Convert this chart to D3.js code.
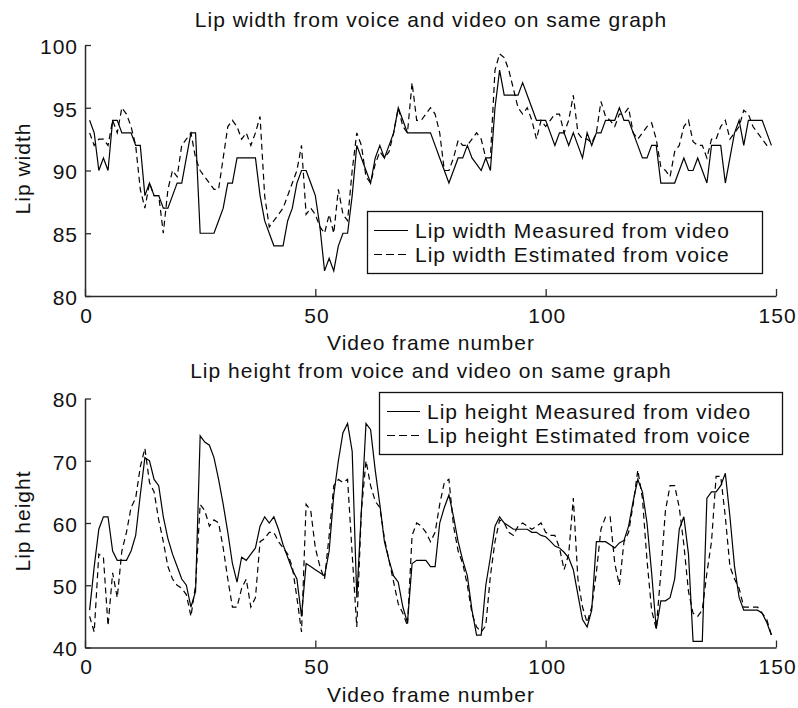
<!DOCTYPE html>
<html>
<head>
<meta charset="utf-8">
<script src="https://cdn.jsdelivr.net/npm/d3@7"></script>
<style>
  html, body { margin: 0; padding: 0; background: #ffffff; }
  svg { display: block; }
  text { font-family: "Liberation Sans", Arial, Helvetica, sans-serif; fill: #111; letter-spacing: 1px; }
</style>
</head>
<body>
<svg id="chart" width="798" height="708"></svg>
<script>
// ---------- DATA ----------
const frames = d3.range(1, 150); // video frame numbers 1..149

const widthMeasured = [
  94, 93, 90, 91, 90, 94, 94, 93, 93, 93,
  92, 92, 88, 89, 88, 88, 87, 87, 88, 89,
  89, 91, 93, 93, 85, 85, 85, 85, 86, 87,
  89, 89, 91, 91, 91, 91, 91, 88, 86, 85,
  84, 84, 84, 86, 87, 89, 90, 90, 89, 88,
  85.5, 82, 83, 82, 84, 85, 85, 88, 92, 91,
  90, 89, 91, 92, 91, 92, 93, 95, 94, 93,
  93, 93, 93, 93, 93, 92, 91, 90, 89, 90,
  91, 91, 92, 91, 90.5, 90, 91, 90, 95, 98,
  96, 96, 96, 96, 97, 96, 95, 94, 94, 94,
  93, 92, 93, 93, 92, 93, 92, 91, 93, 92,
  93, 93, 94, 94, 94, 95, 94, 94, 93, 92,
  91, 91, 92, 92, 89, 89, 89, 89, 90, 91,
  90, 90, 91, 90, 89, 92, 92, 92, 89, 91,
  93, 94, 92, 94, 94, 94, 94, 93, 92
];

const widthEstimated = [
  93, 92, 92.5, 92.5, 92, 94, 93, 95, 94.5, 93.5,
  92, 88.5, 87, 89, 88, 88, 85, 88.5, 90, 89.5,
  92, 92.5, 93, 91, 90, 89.5, 89, 88.5, 88.5, 91,
  93.5, 94, 93.5, 92.5, 93, 92, 93, 94.3, 88, 85.5,
  86, 86.5, 87, 88, 89, 90, 92, 86.5, 87, 86.5,
  85.5, 85, 86.5, 85, 88.5, 86.5, 86, 90, 93, 92,
  89.5, 89, 90.5, 91.5, 91, 91.5, 93, 95, 93.5, 93,
  97, 94, 94, 94.5, 95, 94.5, 93, 90, 90, 91,
  92.4, 92, 92, 92.5, 93, 92.5, 91, 91, 98, 99.3,
  99, 98, 96.5, 95, 94.5, 95, 94, 92.5, 94, 93.5,
  94, 94.5, 94.5, 93, 94, 96, 93, 92.5, 92.5, 92.2,
  93, 95.5, 94.3, 94, 93.5, 94.5, 94.5, 95, 93, 92.5,
  93, 93.5, 93.8, 92.5, 90.3, 90, 89.5, 91.5, 92, 93.5,
  94, 92.3, 92, 92, 91, 92.5, 92.5, 93.5, 94, 92.5,
  93, 93.5, 94.8, 94.5, 93.5, 93, 92.5, 92, 92
];

const heightMeasured = [
  46, 53, 59, 61, 61, 55.5, 54, 54, 54, 55.5,
  58, 64.5, 70.5, 70, 67, 66, 61, 57.5, 55, 53,
  51, 50, 46.5, 49, 74, 73, 72.5, 70.5, 67, 63,
  58.5, 53.5, 50.5, 54.5, 54, 55, 56, 59.5, 61, 60,
  61, 59, 56.5, 54.5, 52.5, 51, 45, 53.5, 53, 52.5,
  52, 51.5, 55.5, 64.5, 70, 74.5, 76, 71.5, 48, 62,
  76, 75, 68.5, 63, 57, 54, 51.5, 50.5, 46.5, 44,
  53.5, 54, 54, 54, 53, 53, 60, 62.5, 64.5, 61,
  57, 54, 51.5, 46, 42, 42, 50, 54.5, 59.5, 61,
  60, 59.5, 59, 59, 59, 59, 58.5, 58.5, 58, 57.8,
  57.1, 56.3, 56, 55.3, 54.4, 52.5, 48.5, 44.5, 43.3, 46,
  57, 57, 57, 56.5, 56, 56.8, 57.2, 59.5, 63.5, 67,
  65, 60, 52, 43, 47.5, 47.5, 48, 51, 59, 61,
  55, 41, 41, 41, 64, 65, 65, 66, 68, 61,
  53, 48, 46, 46, 46, 46, 45.5, 44, 42
];

const heightEstimated = [
  45, 42.5, 55, 54.5, 43.5, 52, 48, 55.5, 58.5, 62.5,
  64, 69, 72, 66.5, 65, 60.5, 57, 53, 51, 50,
  49.5, 48.5, 45, 50, 63, 62, 59.5, 60.5, 60, 56,
  51, 46.5, 46.5, 49.5, 51, 46.5, 48, 57, 57.5, 58.5,
  58.5, 57, 56, 55, 53, 48, 42.5, 63, 62, 56,
  53, 51, 58, 66, 67, 66.5, 67, 55, 43.3, 62,
  70, 66, 63.5, 62.5, 57.5, 54, 50.5, 47, 45.5, 43.5,
  58, 60, 59.5, 58.5, 57, 58.5, 63, 66.5, 67, 59.5,
  55.5, 53.5, 50, 45.5, 43.3, 42.5, 43.5, 51.5, 57, 60.5,
  60, 58.5, 58, 59.5, 60, 59.5, 59, 59.5, 60, 58.5,
  58, 58, 56, 52.5, 55, 64, 51, 46.5, 44, 46.5,
  52, 59, 61, 61, 53.5, 50, 57, 58.5, 63, 68.5,
  64, 54, 46, 43, 52, 62, 66, 66, 62.5, 56.5,
  49, 45.5, 45, 46, 52, 57, 67.5, 67.5, 61, 53,
  51, 49.5, 46.5, 46.5, 46.5, 46.5, 45.5, 44.5, 42
];

const xTicks = [0, 50, 100, 150];
const widthTicks = [80, 85, 90, 95, 100];
const heightTicks = [40, 50, 60, 70, 80];

const titles = ["Lip width from voice and video on same graph",
                "Lip height from voice and video on same graph"];
const xLabel = "Video frame number";
const yLabels = ["Lip width", "Lip height"];
const legendTop = ["Lip width Measured from video", "Lip width Estimated from voice"];
const legendBottom = ["Lip height Measured from video", "Lip height Estimated from voice"];

// ---------- DRAW ----------
const svg = d3.select("#chart");
const FONT = 21;
const AX = "#2a2a2a";

function panel(cfg) {
  const x = d3.scaleLinear().domain([0, 150]).range([85, 776]);
  const y = d3.scaleLinear().domain(cfg.yDomain).range([cfg.bottom, cfg.top]);
  const g = svg.append("g");

  // axes (ticks point inward, no box)
  const ya = g.append("g").attr("transform", "translate(85,0)")
    .call(d3.axisLeft(y).tickValues(cfg.yTicks).tickSizeInner(-6).tickSizeOuter(0).tickPadding(7));
  const xa = g.append("g").attr("transform", `translate(0,${cfg.bottom})`)
    .call(d3.axisBottom(x).tickValues(xTicks).tickSizeInner(-7).tickSizeOuter(0).tickPadding(12));
  [ya, xa].forEach(a => {
    a.attr("font-size", null).attr("font-family", null);
    a.selectAll("path.domain").attr("stroke", AX).attr("stroke-width", 1.5);
    a.selectAll(".tick line").attr("stroke", AX).attr("stroke-width", 1.3);
    a.selectAll("text").style("font-size", FONT + "px").attr("fill", "#111");
  });
  ya.selectAll("text").attr("dy", "0.4em");
  xa.selectAll("text").attr("dx", "0.05em");

  // lines
  const line = vals => d3.line().x((d, i) => x(frames[i])).y(d => y(d))(vals);
  g.append("path").attr("d", line(cfg.measured))
    .attr("fill", "none").attr("stroke", "#000").attr("stroke-width", 1.2);
  g.append("path").attr("d", line(cfg.estimated))
    .attr("fill", "none").attr("stroke", "#000").attr("stroke-width", 1.2)
    .attr("stroke-dasharray", "6,4");

  // title / labels
  g.append("text").attr("x", 431).attr("y", cfg.titleY).attr("text-anchor", "middle")
    .style("font-size", FONT + "px").text(cfg.title);
  g.append("text").attr("x", 431).attr("y", cfg.xLabelY).attr("text-anchor", "middle")
    .style("font-size", FONT + "px").text(xLabel);
  g.append("text").attr("transform", `translate(30,${(cfg.top + cfg.bottom) / 2 - 2}) rotate(-90)`)
    .attr("text-anchor", "middle").style("font-size", FONT + "px").text(cfg.yLabel);

  // legend
  const L = cfg.legend;
  g.append("rect").attr("x", L.x0).attr("y", L.y0).attr("width", L.x1 - L.x0).attr("height", L.y1 - L.y0)
    .attr("fill", "#fff").attr("stroke", "#111").attr("stroke-width", 1.3);
  L.labels.forEach((t, i) => {
    const cy = L.rows[i];
    g.append("line").attr("x1", L.lx0).attr("x2", L.lx1).attr("y1", cy).attr("y2", cy)
      .attr("stroke", "#000").attr("stroke-width", 1.2)
      .attr("stroke-dasharray", i === 1 ? "8,4" : null);
    g.append("text").attr("x", L.tx).attr("y", cy).attr("dy", "0.36em")
      .style("font-size", FONT + "px").text(t);
  });
}

panel({
  yDomain: [80, 100], yTicks: widthTicks, top: 45, bottom: 296,
  measured: widthMeasured, estimated: widthEstimated,
  title: titles[0], titleY: 27, xLabelY: 350, yLabel: yLabels[0],
  legend: { x0: 367.5, y0: 211.5, x1: 762.5, y1: 273.5, lx0: 374, lx1: 408, tx: 415,
            rows: [230.5, 254.5], labels: legendTop }
});

panel({
  yDomain: [40, 80], yTicks: heightTicks, top: 398.5, bottom: 647.5,
  measured: heightMeasured, estimated: heightEstimated,
  title: titles[1], titleY: 378, xLabelY: 702, yLabel: yLabels[1],
  legend: { x0: 379.5, y0: 392.5, x1: 782.5, y1: 454.5, lx0: 387, lx1: 420, tx: 427,
            rows: [411.5, 435.5], labels: legendBottom }
});
</script>
</body>
</html>
